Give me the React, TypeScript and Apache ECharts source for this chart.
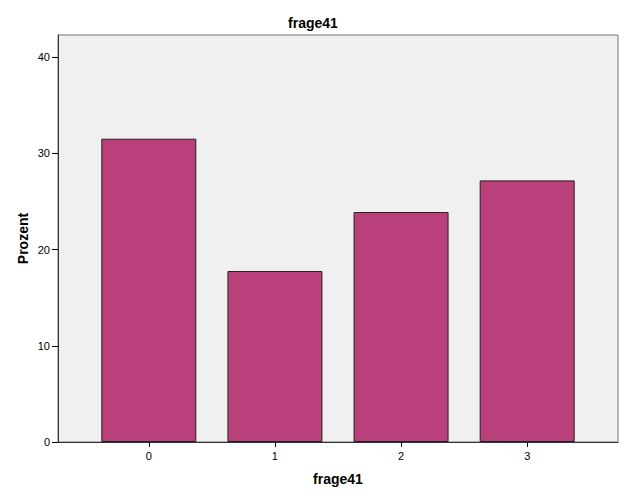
import React, { useEffect, useRef } from "react";
import * as echarts from "echarts";

const categories = [0, 1, 2, 3];
const percentValues = [31.52, 17.77, 23.9, 27.19];
const yTickValues = [0, 10, 20, 30, 40];

export default function App() {
  const ref = useRef<HTMLDivElement>(null);
  useEffect(() => {
    if (!ref.current) return;
    const chart = echarts.init(ref.current, null, { renderer: "svg" });
    const font = "'Liberation Sans', Arial, sans-serif";
    chart.setOption({
      animation: false,
      backgroundColor: "#ffffff",
      title: {
        text: "frage41",
        left: "center",
        top: 11,
        textStyle: { fontFamily: font, fontSize: 14, fontWeight: "bold", color: "#000" },
      },
      grid: {
        left: 58,
        top: 35,
        right: 8,
        bottom: 59,
        show: true,
        backgroundColor: "#f0f0f0",
        borderColor: "#777777",
        borderWidth: 1,
      },
      xAxis: {
        type: "value",
        min: -0.72,
        max: 3.72,
        name: "frage41",
        nameLocation: "middle",
        nameGap: 30,
        nameMoveOverlap: false,
        nameTextStyle: { fontFamily: font, fontSize: 14, fontWeight: "bold", color: "#000" },
        axisLine: { show: true, onZero: false, lineStyle: { color: "#333", width: 1 } },
        axisTick: { show: true, length: 5, customValues: categories, lineStyle: { color: "#000" } },
        axisLabel: {
          customValues: categories,
          fontFamily: font,
          fontSize: 11,
          color: "#000",
          margin: 8,
        },
        splitLine: { show: false },
      },
      yAxis: {
        type: "value",
        min: 0,
        max: 42.3,
        name: "Prozent",
        nameLocation: "middle",
        nameGap: 28,
        nameMoveOverlap: false,
        nameTextStyle: { fontFamily: font, fontSize: 14, fontWeight: "bold", color: "#000" },
        axisLine: { show: true, onZero: false, lineStyle: { color: "#333", width: 1 } },
        axisTick: { show: true, length: 6, customValues: yTickValues, lineStyle: { color: "#000" } },
        axisLabel: {
          customValues: yTickValues,
          fontFamily: font,
          fontSize: 11,
          color: "#000",
          margin: 8,
        },
        splitLine: { show: false },
      },
      series: [
        {
          type: "bar",
          data: categories.map((c, i) => [c, percentValues[i]]),
          barWidth: 95,
          itemStyle: { color: "#BA407C", borderColor: "#222222", borderWidth: 1 },
        },
      ],
    });
    return () => chart.dispose();
  }, []);
  return <div ref={ref} style={{ width: 626, height: 501, position: "absolute", left: 0, top: 0 }} />;
}
